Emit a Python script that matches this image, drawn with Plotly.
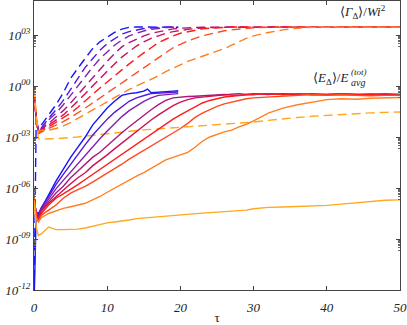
import plotly.graph_objects as go

# x grids
XS_SHORT = [0, 0.3, 0.6, 1, 2, 3, 4, 5, 6, 7, 8, 9, 10, 11, 12, 13, 14, 15, 15.5, 16, 17, 18, 19, 19.7]
XS_LONG = [0, 0.3, 0.6,
           1, 2, 3, 4, 5, 6, 7, 8, 9, 10,
           11, 12, 13, 14, 15, 16, 17, 18, 19, 20,
           21, 22, 23, 24, 25, 26, 27, 28, 29, 30,
           32, 34, 36, 38, 40, 42, 44, 46, 48, 50]

COLORS = ['#1414ff', '#5018e0', '#8020b0', '#a81880', '#d01050',
          '#ff1a1a', '#ff4a20', '#ff8020', '#ffa820']

# log10 of <E_Delta>/E_avg^(tot)  (solid)
E_blue = [-13, -7.4, -7.5, -7.2, -6.4, -5.6, -4.9, -4.2, -3.6, -3.0, -2.3, -1.8, -1.3, -0.9,
          -0.55, -0.45, -0.4, -0.3, -0.18, -0.4, -0.35, -0.33, -0.3, -0.28]
E_violet = [-6.6, -7.5, -7.6, -7.15, -6.5, -5.8, -5.2, -4.6, -4.0, -3.45, -2.9, -2.4, -1.95, -1.55,
            -1.2, -0.9, -0.7, -0.55, -0.5, -0.45, -0.42, -0.4, -0.36, -0.35]
E_purple = [-6.6, -7.55, -7.65, -7.25, -6.65, -6.05, -5.55, -5.05, -4.55, -4.05, -3.55, -3.1, -2.65, -2.2,
            -1.8, -1.45, -1.15, -0.9, -0.8, -0.7, -0.55, -0.5, -0.45, -0.45]
E_magenta = [-6.6, -7.5, -7.7,
             -7.3, -6.8, -6.3, -5.9, -5.4, -5.0, -4.6, -4.2, -3.9, -3.5,
             -3.1, -2.75, -2.4, -2.05, -1.7, -1.4, -1.1, -0.85, -0.7, -0.65,
             -0.62, -0.6, -0.57, -0.55, -0.52, -0.5, -0.53, -0.55, -0.5, -0.45,
             -0.5, -0.45, -0.5, -0.45, -0.5, -0.45, -0.5, -0.47, -0.5, -0.5]
E_crimson = [-6.5, -7.6, -7.8,
             -7.35, -6.9, -6.5, -6.1, -5.75, -5.4, -5.1, -4.7, -4.4, -4.05,
             -3.7, -3.35, -3.0, -2.65, -2.3, -2.0, -1.7, -1.4, -1.15, -0.95,
             -0.8, -0.7, -0.65, -0.6, -0.55, -0.5, -0.48, -0.45, -0.5, -0.5,
             -0.45, -0.5, -0.48, -0.52, -0.5, -0.48, -0.5, -0.55, -0.5, -0.52]
E_red = [-6.4, -7.6, -7.9,
         -7.5, -7.0, -6.6, -6.35, -6.1, -5.8, -5.5, -5.2, -4.9, -4.6,
         -4.3, -4.0, -3.7, -3.4, -3.1, -2.8, -2.5, -2.25, -1.95, -1.7,
         -1.45, -1.2, -1.0, -0.85, -0.75, -0.65, -0.6, -0.55, -0.52, -0.5,
         -0.45, -0.5, -0.45, -0.5, -0.5, -0.45, -0.5, -0.5, -0.45, -0.5]
E_redorange = [-6.5, -7.7, -8.0,
               -7.6, -7.3, -7.0, -6.6, -6.3, -6.1, -5.9, -5.65, -5.4, -5.15,
               -4.85, -4.6, -4.3, -4.05, -3.8, -3.55, -3.3, -3.05, -2.8, -2.5,
               -2.2, -1.85, -1.6, -1.4, -1.2, -1.05, -0.95, -0.85, -0.75, -0.7,
               -0.65, -0.6, -0.55, -0.5, -0.55, -0.5, -0.55, -0.58, -0.55, -0.55]
E_orange = [-6.6, -7.8, -8.0,
            -7.75, -7.5, -7.35, -7.2, -7.1, -7.0, -6.9, -6.7, -6.5, -6.25,
            -6.0, -5.75, -5.5, -5.3, -5.1, -4.85, -4.55, -4.35, -4.2, -4.05,
            -3.9, -3.6, -3.25, -3.0, -2.85, -2.7, -2.6, -2.4, -2.25, -2.05,
            -1.6, -1.3, -1.1, -0.95, -0.8, -0.75, -0.78, -0.72, -0.7, -0.68]
E_yellow = [-6.8, -8.3, -8.8,
            -8.7, -8.3, -8.45, -8.45, -8.45, -8.42, -8.35, -8.25, -8.15, -8.05,
            -8.0, -7.95, -7.88, -7.8, -7.76, -7.72, -7.68, -7.65, -7.6, -7.58,
            -7.55, -7.5, -7.48, -7.45, -7.42, -7.4, -7.37, -7.35, -7.3, -7.22,
            -7.14, -7.12, -7.1, -7.05, -7.02, -6.95, -6.88, -6.8, -6.72, -6.7]

# log10 of <Gamma_Delta>/Wi^2  (dashed)
G_blue = [-13, -1.8, -2.6, -2.3, -1.7, -1.1, -0.4, 0.45, 1.05, 1.65, 2.2, 2.6, 2.9, 3.15,
          3.35, 3.45, 3.47, 3.46, 3.47, 3.47, 3.46, 3.47, 3.46, 3.46]
G_violet = [-0.5, -1.9, -2.7, -2.45, -1.9, -1.4, -0.85, -0.2, 0.45, 1.1, 1.6, 2.1, 2.5, 2.8,
            3.05, 3.2, 3.3, 3.38, 3.4, 3.42, 3.45, 3.46, 3.47, 3.46]
G_purple = [-0.45, -1.9, -2.75, -2.5, -2.0, -1.6, -1.1, -0.55, 0.0, 0.6, 1.1, 1.6, 2.0, 2.4,
            2.7, 2.95, 3.1, 3.25, 3.3, 3.33, 3.4, 3.44, 3.46, 3.46]
G_magenta = [-0.4, -1.9, -2.75,
             -2.55, -2.2, -1.85, -1.45, -1.0, -0.5, 0.0, 0.5, 1.0, 1.45,
             1.9, 2.3, 2.55, 2.75, 2.95, 3.1, 3.2, 3.3, 3.36, 3.4,
             3.43, 3.45, 3.46, 3.46, 3.47, 3.46, 3.47, 3.46, 3.46, 3.47,
             3.46, 3.47, 3.46, 3.46, 3.47, 3.46, 3.46, 3.47, 3.46, 3.46]
G_crimson = [-0.35, -1.9, -2.8,
             -2.6, -2.3, -2.0, -1.7, -1.3, -0.9, -0.45, 0.0, 0.45, 0.9,
             1.3, 1.7, 2.05, 2.35, 2.6, 2.8, 2.95, 3.1, 3.2, 3.28,
             3.33, 3.38, 3.41, 3.43, 3.45, 3.46, 3.47, 3.46, 3.47, 3.46,
             3.47, 3.46, 3.46, 3.47, 3.46, 3.47, 3.46, 3.46, 3.47, 3.46]
G_red = [-0.3, -1.9, -2.8,
         -2.65, -2.4, -2.15, -1.9, -1.6, -1.25, -0.9, -0.5, -0.12, 0.25,
         0.6, 0.95, 1.3, 1.65, 1.95, 2.25, 2.55, 2.75, 2.95, 3.1,
         3.2, 3.3, 3.36, 3.4, 3.43, 3.45, 3.46, 3.47, 3.46, 3.47,
         3.46, 3.47, 3.46, 3.46, 3.47, 3.46, 3.47, 3.46, 3.46, 3.47]
G_redorange = [-0.2, -1.9, -2.8,
               -2.7, -2.5, -2.3, -2.1, -1.85, -1.6, -1.3, -1.0, -0.7, -0.4,
               -0.1, 0.2, 0.5, 0.8, 1.1, 1.4, 1.7, 2.0, 2.25, 2.45,
               2.65, 2.8, 2.95, 3.05, 3.15, 3.25, 3.3, 3.35, 3.4, 3.42,
               3.45, 3.46, 3.47, 3.46, 3.47, 3.46, 3.47, 3.46, 3.47, 3.46]
G_orange = [-0.1, -1.8, -2.7,
            -2.6, -2.6, -2.5, -2.35, -2.15, -1.9, -1.65, -1.4, -1.15, -0.9,
            -0.65, -0.4, -0.2, 0.0, 0.2, 0.4, 0.6, 0.85, 1.05, 1.25,
            1.45, 1.6, 1.75, 1.9, 2.05, 2.2, 2.4, 2.6, 2.8, 2.95,
            3.15, 3.3, 3.4, 3.45, 3.46, 3.47, 3.46, 3.47, 3.46, 3.46]
G_yellow = [-0.2, -1.9, -3.1,
            -3.15, -3.1, -3.1, -3.08, -3.05, -3.0, -2.95, -2.9, -2.85, -2.78,
            -2.74, -2.7, -2.66, -2.62, -2.58, -2.55, -2.52, -2.48, -2.45, -2.42,
            -2.38, -2.35, -2.32, -2.28, -2.25, -2.22, -2.2, -2.18, -2.15, -2.12,
            -2.02, -1.92, -1.85, -1.78, -1.72, -1.67, -1.62, -1.58, -1.55, -1.53]

Y_TICKS = [-12, -9, -6, -3, 0, 3]
Y_TICKTEXT = ['10<sup>-12</sup>', '10<sup>-09</sup>', '10<sup>-06</sup>',
              '10<sup>-03</sup>', '10<sup>00</sup>', '10<sup>03</sup>']
X_TICKS = [0, 10, 20, 30, 40, 50]

series = [
    (XS_SHORT, E_blue, G_blue),
    (XS_SHORT, E_violet, G_violet),
    (XS_SHORT, E_purple, G_purple),
    (XS_LONG, E_magenta, G_magenta),
    (XS_LONG, E_crimson, G_crimson),
    (XS_LONG, E_red, G_red),
    (XS_LONG, E_redorange, G_redorange),
    (XS_LONG, E_orange, G_orange),
    (XS_LONG, E_yellow, G_yellow),
]

fig = go.Figure()
for (xs, e, g), col in zip(series, COLORS):
    n = min(len(xs), len(g))
    fig.add_trace(go.Scatter(x=xs[:n], y=[10 ** v for v in g[:n]], mode='lines',
                             line=dict(color=col, width=1.4, dash='9px,5px'),
                             showlegend=False, hoverinfo='skip'))
for (xs, e, g), col in zip(series, COLORS):
    n = min(len(xs), len(e))
    fig.add_trace(go.Scatter(x=xs[:n], y=[10 ** v for v in e[:n]], mode='lines',
                             line=dict(color=col, width=1.4),
                             showlegend=False, hoverinfo='skip'))

FONT = 'Liberation Serif, Times New Roman, serif'
minor_vals = []
for k in Y_TICKS:
    for m in range(2, 10):
        minor_vals.append(m * 10 ** (k - 1))

fig.update_layout(
    width=407, height=325,
    margin=dict(l=34, r=7, t=1, b=35),
    paper_bgcolor='white', plot_bgcolor='white',
    font=dict(family=FONT, size=13, color='#222'),
    xaxis=dict(range=[0, 50], tickvals=X_TICKS,
               ticktext=['<i>%d</i>' % v for v in X_TICKS],
               ticks='inside', ticklen=4, tickcolor='#444',
               showline=True, linecolor='#444', linewidth=1, mirror='ticks',
               showgrid=False, zeroline=False, automargin=False, ticklabelstandoff=5,
               tickfont=dict(family=FONT, size=13, color='#222', style='italic'),
               title=dict(text='τ', font=dict(family=FONT, size=13, color='#222'), standoff=0)),
    yaxis=dict(type='log', range=[-12, 5], tickvals=[10 ** k for k in Y_TICKS],
               ticktext=['<i>%s</i>' % t for t in Y_TICKTEXT],
               ticks='inside', ticklen=4, tickcolor='#444',
               minor=dict(tickvals=minor_vals, ticks='inside', ticklen=2, tickcolor='#666'),
               showline=True, linecolor='#444', linewidth=1, mirror='ticks',
               showgrid=False, zeroline=False, automargin=False,
               tickfont=dict(family=FONT, size=13, color='#222', style='italic')),
)

fig.add_annotation(x=45, y=4.35, xref='x', yref='y',
                   text='⟨<i>Γ</i><sub>Δ</sub>⟩/<i>Wi</i><sup>2</sup>',
                   showarrow=False, font=dict(family=FONT, size=13, color='#222'))
fig.add_annotation(x=43.2, y=0.45, xref='x', yref='y', xanchor='right',
                   text='⟨<i>E</i><sub>Δ</sub>⟩/<i>E</i>',
                   showarrow=False, font=dict(family=FONT, size=13, color='#222'))
fig.add_annotation(x=43.1, y=0.2, xref='x', yref='y', xanchor='left',
                   text='<i>avg</i>',
                   showarrow=False, font=dict(family=FONT, size=10, color='#222'))
fig.add_annotation(x=43.1, y=0.85, xref='x', yref='y', xanchor='left',
                   text='<i>(tot)</i>',
                   showarrow=False, font=dict(family=FONT, size=9, color='#222'))

fig.write_html('out.html', config={'displayModeBar': False, 'staticPlot': True},
               post_script="document.body.style.margin='0';")
